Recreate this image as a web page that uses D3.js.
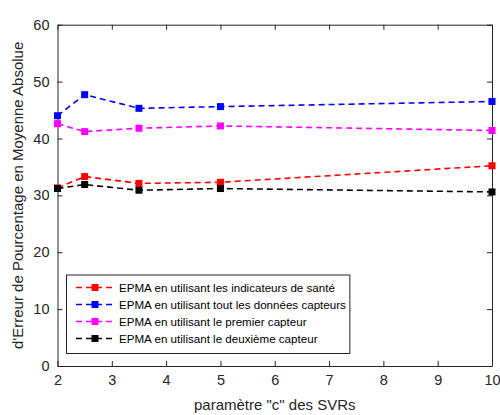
<!DOCTYPE html>
<html><head><meta charset="utf-8">
<script src="https://cdn.jsdelivr.net/npm/d3@7"></script>
<style>body{margin:0;background:#fff;} text{font-family:"Liberation Sans",Arial,sans-serif;}</style>
</head><body><svg id="c" width="500" height="415"></svg>
<script>
const cValues = [2, 2.5, 3.5, 5, 10];
const seriesNames = [
  "EPMA en utilisant les indicateurs de santé",
  "EPMA en utilisant tout les données capteurs",
  "EPMA en utilisant le premier capteur",
  "EPMA en utilisant le deuxième capteur"
];
const seriesColors = ["#ff0000", "#0000ff", "#ff00ff", "#000000"];
const indicateurs = [31.3, 33.3, 32.1, 32.3, 35.2];
const toutCapteurs = [44.0, 47.7, 45.3, 45.6, 46.5];
const premierCapteur = [42.6, 41.2, 41.8, 42.2, 41.4];
const deuxiemeCapteur = [31.2, 31.9, 30.9, 31.2, 30.6];
const seriesValues = [indicateurs, toutCapteurs, premierCapteur, deuxiemeCapteur];
const xTicks = [2, 3, 4, 5, 6, 7, 8, 9, 10];
const yTicks = [0, 10, 20, 30, 40, 50, 60];
const xLabel = 'paramètre "c" des SVRs';
const yLabel = "d'Erreur de Pourcentage en Moyenne Absolue";

const svg = d3.select("#c");
const L = 57.5, R = 492, T = 24.7, B = 366;
const x = d3.scaleLinear().domain([2, 10]).range([L, R]);
const y = d3.scaleLinear().domain([0, 60]).range([B, T]);
const axisCol = "#262626";

// axes
const gx = svg.append("g").attr("transform", `translate(0,${B})`)
  .call(d3.axisBottom(x).tickValues(xTicks).tickSizeInner(-5).tickSizeOuter(0).tickPadding(9));
const gxt = svg.append("g").attr("transform", `translate(0,${T})`)
  .call(d3.axisTop(x).tickValues(xTicks).tickSizeInner(-5).tickSizeOuter(0).tickFormat(""));
const gy = svg.append("g").attr("transform", `translate(${L},0)`)
  .call(d3.axisLeft(y).tickValues(yTicks).tickSizeInner(-5).tickSizeOuter(0).tickPadding(8));
const gyr = svg.append("g").attr("transform", `translate(${R},0)`)
  .call(d3.axisRight(y).tickValues(yTicks).tickSizeInner(-5).tickSizeOuter(0).tickFormat(""));
[gx, gxt, gy, gyr].forEach(g => {
  g.select(".domain").attr("stroke", axisCol).attr("stroke-width", 1);
  g.selectAll(".tick line").attr("stroke", axisCol).attr("stroke-width", 1);
  g.selectAll(".tick text").attr("fill", axisCol).attr("font-size", 14.5)
   .attr("font-family", '"Liberation Sans",Arial,sans-serif');
});

// axis labels
svg.append("text").attr("x", (L + R) / 2).attr("y", 410).attr("text-anchor", "middle")
  .attr("fill", axisCol).attr("font-size", 15).text(xLabel);
svg.append("text").attr("transform", `translate(23,${(T + B) / 2}) rotate(-90)`)
  .attr("text-anchor", "middle").attr("fill", axisCol).attr("font-size", 15).text(yLabel);

// lines
const line = d3.line().x((d, i) => x(cValues[i])).y(d => y(d));
seriesValues.forEach((vals, s) => {
  const g = svg.append("g");
  g.append("path").attr("d", line(vals)).attr("fill", "none")
    .attr("stroke", seriesColors[s]).attr("stroke-width", 1.6).attr("stroke-dasharray", "6,4");
  g.selectAll("rect").data(vals).join("rect")
    .attr("x", (d, i) => x(cValues[i]) - 3.5).attr("y", d => y(d) - 3.5)
    .attr("width", 7).attr("height", 7).attr("fill", seriesColors[s]);
});

// legend
const lg = svg.append("g");
const lx = 66.5, ly = 275, rowH = 17;
const box = lg.append("rect").attr("x", lx).attr("y", ly).attr("height", 78.5)
  .attr("fill", "#fff").attr("stroke", axisCol).attr("stroke-width", 1);
let maxW = 0;
seriesNames.forEach((n, s) => {
  const cy = ly + 12.5 + s * rowH;
  lg.append("line").attr("x1", 75).attr("x2", 115).attr("y1", cy).attr("y2", cy)
    .attr("stroke", seriesColors[s]).attr("stroke-width", 1.6).attr("stroke-dasharray", "6,4").attr("stroke-dashoffset", -1);
  lg.append("rect").attr("x", 95 - 3.5).attr("y", cy - 3.5).attr("width", 7).attr("height", 7)
    .attr("fill", seriesColors[s]);
  const t = lg.append("text").attr("x", 119).attr("y", cy + 4.3).attr("font-size", 11.6)
    .attr("fill", "#000").text(n);
  maxW = Math.max(maxW, t.node().getComputedTextLength());
});
box.attr("width", 119 + maxW + 4 - lx);
</script></body></html>
